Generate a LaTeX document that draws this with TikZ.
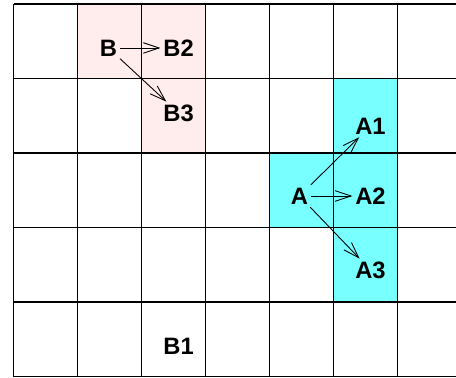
\documentclass[tikz,border=0pt]{standalone}
\usepackage{fontspec}
\setmainfont{Liberation Sans}
\usetikzlibrary{arrows.meta}
\definecolor{cPink}{RGB}{255,236,236}
\definecolor{cCyan}{RGB}{120,255,255}

\begin{document}
\begin{tikzpicture}[x=1.28cm,y=-1.49cm,>={Straight Barb[length=9pt,width=6pt]},
  lbl/.style={font=\fontsize{13.5}{15}\selectfont\bfseries,inner sep=1.5pt},
  cell/.style={line width=0.65pt},
  link/.style={->,line width=0.5pt}]
  \useasboundingbox (-0.211,-0.054) rectangle (6.914,5.007);
  \clip (-0.211,-0.054) rectangle (6.914,5.007);
  % shaded cells
  \fill[cPink] (1,0) rectangle (3,1) (2,1) rectangle (3,2);
  \fill[cCyan] (5,1) rectangle (6,4) (4,2) rectangle (5,3);
  % grid
  \foreach \i in {0,...,7} \draw[cell] (\i,0) -- (\i,5);
  \foreach \j in {0,...,5} \draw[cell] (0,\j) -- (7,\j);
  % labels
  \node[lbl] (b) at (1.484,0.59) {B};
  \node[lbl] (b2) at (2.58,0.59) {B2};
  \node[lbl] (b3) at (2.58,1.463) {B3};
  \node[lbl] (b1) at (2.58,4.6) {B1};
  \node[lbl] (a) at (4.469,2.577) {A};
  \node[lbl] (a1) at (5.578,1.638) {A1};
  \node[lbl] (a2) at (5.578,2.577) {A2};
  \node[lbl] (a3) at (5.578,3.57) {A3};
  % moves
  \draw[link] (b) -- (b2);
  \draw[link] (b) -- (b3);
  \draw[link] (a) -- (a1);
  \draw[link] (a) -- (a2);
  \draw[link] (a) -- (a3);
\end{tikzpicture}
\end{document}
